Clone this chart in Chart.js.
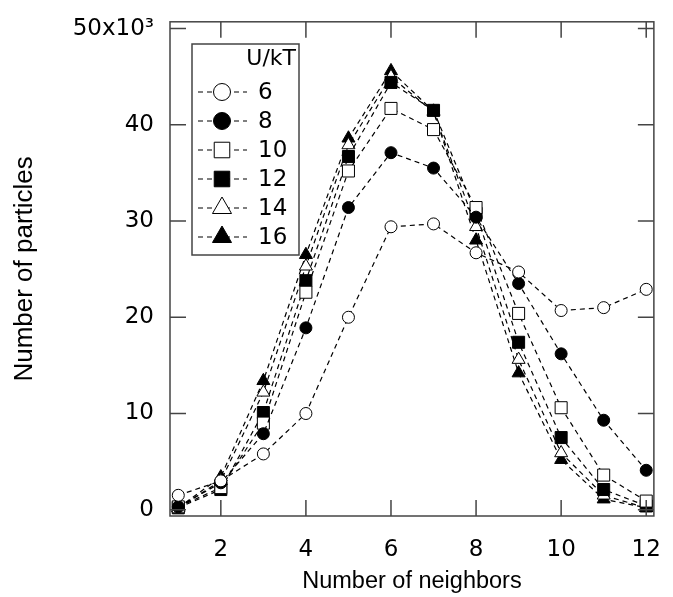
<!DOCTYPE html>
<html>
<head>
<meta charset="utf-8">
<script src="https://cdn.jsdelivr.net/npm/chart.js@4/dist/chart.umd.min.js"></script>
<style>
  body { margin: 0; background: #fff; }
  #wrap { width: 673px; height: 597px; }
</style>
</head>
<body>
<div id="wrap"><canvas id="myChart" width="673" height="597"></canvas></div>
<script>
// number of neighbors (x) and particle counts in units of 10^3
const neighbors = [1, 2, 3, 4, 5, 6, 7, 8, 9, 10, 11, 12];
const u6 = [1.5, 3.0, 5.8, 10.0, 20.0, 29.4, 29.7, 26.7, 24.7, 20.7, 21.0, 22.9];
const u8 = [0.3, 2.8, 7.9, 18.9, 31.4, 37.1, 35.5, 30.4, 23.5, 16.2, 9.3, 4.1];
const u10 = [0.3, 2.3, 9.0, 22.6, 35.2, 41.7, 39.5, 31.4, 20.4, 10.6, 3.6, 0.9];
const u12 = [0.2, 2.1, 10.1, 23.8, 36.7, 44.4, 41.5, 30.8, 17.4, 7.5, 2.1, 0.4];
const u14 = [0.2, 3.0, 12.2, 25.3, 37.9, 45.0, 41.3, 29.4, 15.6, 5.9, 1.5, 0.2];
const u16 = [0.2, 3.4, 13.4, 26.5, 38.6, 45.6, 41.4, 28.0, 14.2, 5.2, 1.1, 0.2];
const seriesLabels = ["6", "8", "10", "12", "14", "16"];
const xTicks = [2, 4, 6, 8, 10, 12];
const yTicks = [0, 10, 20, 30, 40, 50];

const FONT = "'DejaVu Sans', sans-serif";
const TFONT = "'Liberation Sans', Arial, sans-serif";

function pts(arr) {
  return arr.map((v, i) => ({ x: neighbors[i], y: v }));
}

const styles = [
  { pointStyle: "circle", fill: "#fff", r: 6 },
  { pointStyle: "circle", fill: "#000", r: 6 },
  { pointStyle: "rect", fill: "#fff", r: 8.5 },
  { pointStyle: "rect", fill: "#000", r: 8.5 },
  { pointStyle: "triangle", fill: "#fff", r: 7.5 },
  { pointStyle: "triangle", fill: "#000", r: 7.5 },
];
const allData = [u6, u8, u10, u12, u14, u16];

const datasets = allData.map((d, i) => ({
  label: seriesLabels[i],
  data: pts(d),
  borderColor: "#000",
  borderWidth: 1.2,
  borderDash: [5, 4],
  fill: false,
  tension: 0,
  pointStyle: styles[i].pointStyle,
  pointRadius: styles[i].r,
  pointBackgroundColor: styles[i].fill,
  pointBorderColor: "#000",
  pointBorderWidth: 1,
}));

// frame with inward ticks on all four sides, plus the boxed legend
const framePlugin = {
  id: "frame",
  afterDatasetsDraw(chart) {
    const { ctx, chartArea: a, scales } = chart;
    ctx.save();
    ctx.strokeStyle = "#444";
    ctx.lineWidth = 1.5;
    ctx.strokeRect(a.left, a.top, a.right - a.left, a.bottom - a.top);
    const L = 16;
    ctx.beginPath();
    xTicks.forEach((t) => {
      const px = scales.x.getPixelForValue(t);
      ctx.moveTo(px, a.bottom); ctx.lineTo(px, a.bottom - L);
      ctx.moveTo(px, a.top); ctx.lineTo(px, a.top + L);
    });
    yTicks.forEach((t) => {
      const py = scales.y.getPixelForValue(t);
      ctx.moveTo(a.left, py); ctx.lineTo(a.left + L, py);
      ctx.moveTo(a.right, py); ctx.lineTo(a.right - L, py);
    });
    ctx.stroke();
    ctx.restore();
  },
  afterDraw(chart) {
    const { ctx } = chart;
    const bx = 192, by = 44, bw = 107, bh = 211;
    ctx.save();
    ctx.fillStyle = "#fff";
    ctx.fillRect(bx, by, bw, bh);
    ctx.strokeStyle = "#444";
    ctx.lineWidth = 1.5;
    ctx.strokeRect(bx, by, bw, bh);
    ctx.fillStyle = "#000";
    ctx.font = "22px " + FONT;
    ctx.textAlign = "right";
    ctx.textBaseline = "middle";
    ctx.fillText("U/kT", 296, 59);
    ctx.textAlign = "left";
    seriesLabels.forEach((lab, i) => {
      const y = 92 + i * 29;
      ctx.strokeStyle = "#000";
      ctx.lineWidth = 1.2;
      ctx.setLineDash([5, 4]);
      ctx.beginPath();
      ctx.moveTo(198, y); ctx.lineTo(247, y);
      ctx.stroke();
      ctx.setLineDash([]);
      ctx.fillStyle = styles[i].fill;
      ctx.strokeStyle = "#000";
      ctx.lineWidth = 1;
      const big = styles[i].pointStyle === "circle" ? 8.5 : 11;
      Chart.helpers.drawPoint(ctx, { pointStyle: styles[i].pointStyle, radius: big, rotation: 0, borderWidth: 1 }, 222, y);
      ctx.fillStyle = "#000";
      ctx.font = "23px " + FONT;
      ctx.fillText(lab, 258, y + 1);
    });
    ctx.restore();
  },
};

new Chart("myChart", {
  type: "line",
  data: { datasets: datasets },
  options: {
    responsive: false,
    animation: false,
    layout: { padding: { left: 0, top: 21, right: 8, bottom: 0 } },
    plugins: { legend: { display: false }, tooltip: { enabled: false } },
    scales: {
      x: {
        type: "linear",
        min: 0.805,
        max: 12.18,
        afterFit(scale) { scale.height = 81; },
        afterBuildTicks(scale) { scale.ticks = xTicks.map((v) => ({ value: v })); },
        grid: { display: false },
        border: { display: false },
        ticks: { color: "#000", font: { family: FONT, size: 23 }, padding: 12 },
        title: {
          display: true,
          text: "Number of neighbors",
          color: "#000",
          font: { family: TFONT, size: 23.5 },
          padding: { top: 0, bottom: 1 },
        },
      },
      y: {
        type: "linear",
        min: -0.65,
        max: 50.7,
        afterFit(scale) { scale.width = 170; },
        afterBuildTicks(scale) { scale.ticks = yTicks.map((v) => ({ value: v })); },
        grid: { display: false },
        border: { display: false },
        ticks: {
          color: "#000",
          font: { family: FONT, size: 23 },
          padding: 8,
          callback: (v) => (v === 50 ? "50x10³" : v),
        },
        title: {
          display: true,
          text: "Number of particles",
          color: "#000",
          font: { family: TFONT, size: 26 },
          padding: { top: 9, bottom: 0 },
        },
      },
    },
  },
  plugins: [framePlugin],
});
</script>
</body>
</html>
